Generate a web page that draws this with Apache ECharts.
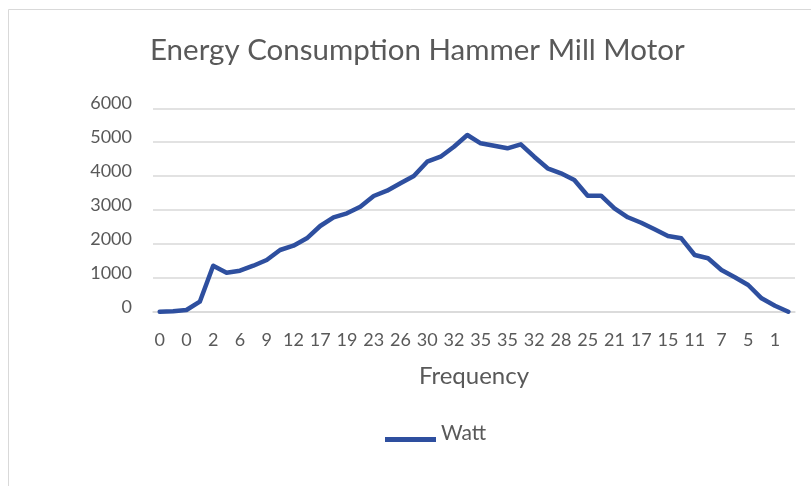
<!DOCTYPE html>
<html><head><meta charset="utf-8">
<script src="https://cdn.jsdelivr.net/npm/echarts@6/dist/echarts.min.js"></script>
<style>html,body{margin:0;padding:0;background:#fff}#c{width:811px;height:486px}</style>
</head><body><div id="c"></div>
<script>
const titleText = 'Energy Consumption Hammer Mill Motor';
const frequency = [0,0,0,1,2,4,6,7,9,10,12,14,17,18,19,21,23,24,26,28,30,31,32,34,35,35,35,34,32,30,28,27,25,23,21,19,17,16,15,13,11,9,7,6,5,3,1,0];
const watt = [0,10,50,295,1357,1150,1210,1357,1525,1820,1947,2165,2528,2785,2903,3097,3413,3569,3788,4003,4425,4572,4867,5212,4967,4897,4820,4938,4572,4230,4083,3885,3422,3422,3050,2785,2625,2430,2233,2165,1673,1575,1230,1015,788,395,177,0];
const yTicks = [0,1000,2000,3000,4000,5000,6000];
const seriesName = 'Watt';
const xName = 'Frequency';

const font = 'Lato, "Open Sans", sans-serif';
const chart = echarts.init(document.getElementById('c'), null, {renderer:'canvas'});
chart.setOption({
  animation:false,
  backgroundColor:'#fff',
  graphic:[{type:'rect',shape:{x:8.5,y:9.5,width:820,height:500},style:{fill:'none',stroke:'#d9d9d9',lineWidth:1}}],
  title:{text:titleText,left:145,top:30,textStyle:{fontFamily:font,fontSize:29.5,fontWeight:'normal',color:'#595959'}},
  grid:{left:153,right:16,top:108.3,bottom:174.3,containLabel:false},
  legend:{data:[seriesName],left:385,top:423,padding:0,icon:'path://M0,0L0,0M0,12L51,12L51,17L0,17Z',itemWidth:51,itemHeight:17,itemGap:7,
    textStyle:{fontFamily:font,fontSize:21,color:'#595959'}},
  xAxis:{type:'category',data:frequency.map(String),boundaryGap:true,
    name:xName,nameLocation:'middle',nameGap:53,nameTextStyle:{fontFamily:font,fontSize:24,color:'#595959'},
    axisLine:{lineStyle:{color:'#d9d9d9',width:1.5}},axisTick:{show:false},
    axisLabel:{interval:1,fontFamily:font,fontSize:18,color:'#595959',margin:19}},
  yAxis:{type:'value',min:yTicks[0],max:yTicks[yTicks.length-1],interval:1000,
    axisLine:{show:false},axisTick:{show:false},
    splitLine:{lineStyle:{color:'#d9d9d9',width:1.5}},
    axisLabel:{fontFamily:font,fontSize:18,color:'#595959',margin:21,verticalAlign:'bottom',lineHeight:10,
      formatter:v=>String(v)}},
  series:[{name:seriesName,type:'line',data:watt,showSymbol:false,smooth:false,
    lineStyle:{color:'#2E4F9F',width:4.5,join:'round',cap:'round'},itemStyle:{color:'#2E4F9F'}}]
});
</script></body></html>
